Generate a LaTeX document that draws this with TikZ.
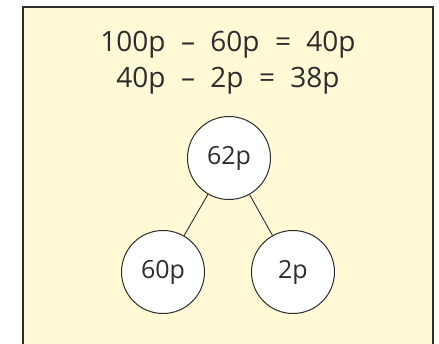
\documentclass[tikz,border=0pt]{standalone}
\usepackage{fontspec}
\setmainfont{Open Sans}
\usepackage{tikz}
\usetikzlibrary{positioning}
\definecolor{panelcream}{RGB}{255, 249, 214}
\definecolor{panelline}{RGB}{45, 45, 45}
\newcommand{\gap}{\hspace{0.55em}}

\begin{document}
\begin{tikzpicture}[
  x=1pt, y=1pt,
  panel/.style = {draw=panelline, line width=2pt, fill=panelcream},
  sum/.style = {font=\fontsize{28}{32}\selectfont, text=panelline, inner sep=0pt},
  coin/.style = {circle, draw=panelline, line width=1pt, fill=white,
                 minimum size=83pt, inner sep=0pt,
                 font=\fontsize{25}{30}\selectfont, text=panelline},
  branch/.style = {draw=panelline, line width=0.9pt}
]
\useasboundingbox (0,0) rectangle (439,-344);
\clip (0,0) rectangle (439,-344);
\draw[panel] (23,-7) rectangle (433,-360);

\node[sum] (first)  at (228,-45) {100p\gap–\gap60p\gap=\gap40p};
\node[sum] (second) at (228,-81) {40p\gap–\gap2p\gap=\gap38p};

\node[coin] (total) at (229,-158) {62p};
\node[coin] (left)  at (163,-272) {60p};
\node[coin] (right) at (293,-272) {2p};

\draw[branch] (total) -- (left);
\draw[branch] (total) -- (right);

\end{tikzpicture}
\end{document}
